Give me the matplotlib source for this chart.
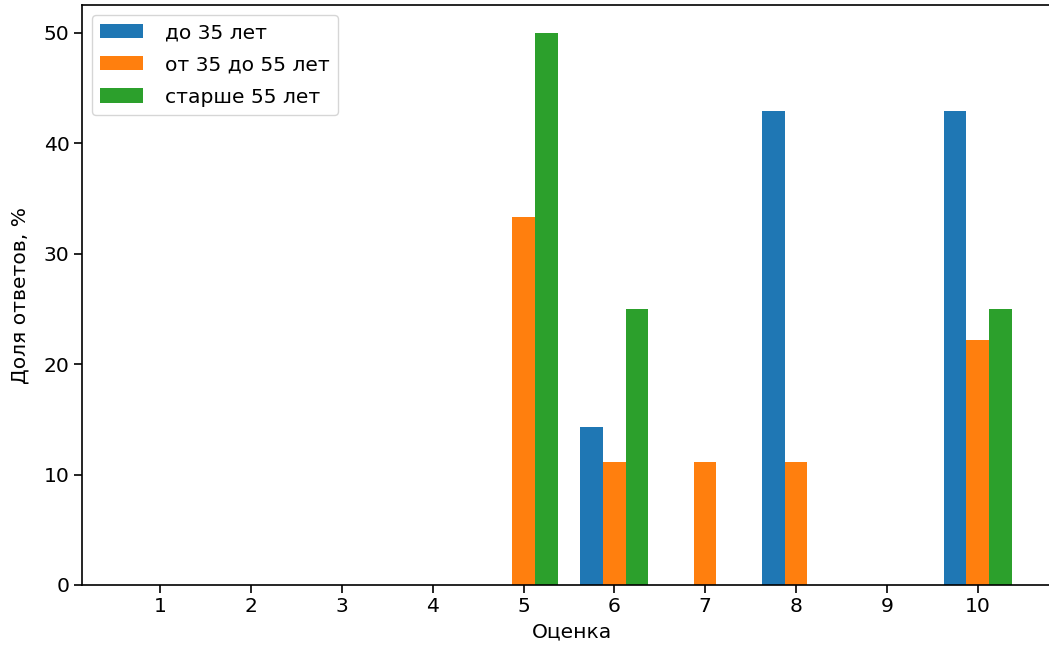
import numpy as np
import matplotlib.pyplot as plt

# оценки и доли ответов по возрастным группам, %
scores = [1, 2, 3, 4, 5, 6, 7, 8, 9, 10]
under_35 = [0, 0, 0, 0, 0, 14.29, 0, 42.86, 0, 42.86]
from_35_to_55 = [0, 0, 0, 0, 33.33, 11.11, 11.11, 11.11, 0, 22.22]
over_55 = [0, 0, 0, 0, 50, 25, 0, 0, 0, 25]
labels = ["до 35 лет", "от 35 до 55 лет", "старше 55 лет"]

fs = 14.6
fig = plt.figure(figsize=(10.49, 6.49), dpi=100)
ax = fig.add_axes([82 / 1049, 64 / 649, 980 / 1049, 580 / 649])

x = np.array(scores)
w = 0.25
ax.bar(x - w, under_35, w, label=labels[0])
ax.bar(x, from_35_to_55, w, label=labels[1])
ax.bar(x + w, over_55, w, label=labels[2])

ax.set_xticks(x)
ax.set_xlim(0.1375, 10.93)
ax.set_xlabel("Оценка", fontsize=fs)
ax.set_ylabel("Доля ответов, %", fontsize=fs, labelpad=10)
ax.tick_params(labelsize=fs, length=5.5, width=1.2)
for s in ax.spines.values():
    s.set_linewidth(1.2)
ax.spines["right"].set_visible(False)  # обрезано в оригинале
ax.legend(loc="upper left", fontsize=fs, handletextpad=1.1,
          labelspacing=0.65, handlelength=2.1)

fig.savefig("out.png", dpi=100)
